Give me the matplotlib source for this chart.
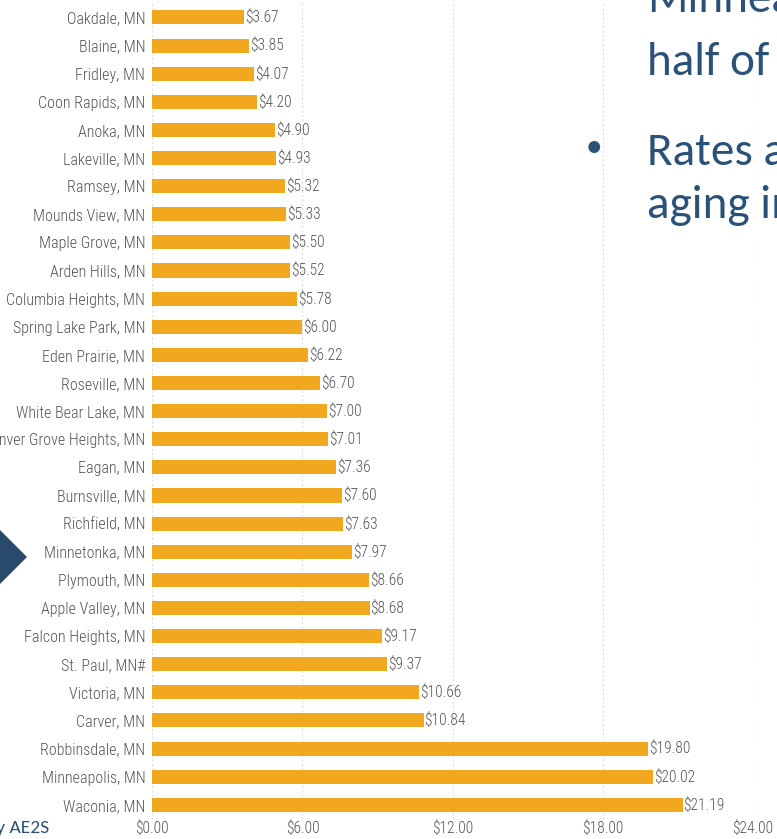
import matplotlib
matplotlib.use("Agg")
import matplotlib.pyplot as plt
from matplotlib.patches import Polygon

cities = ["Oakdale, MN", "Blaine, MN", "Fridley, MN", "Coon Rapids, MN", "Anoka, MN",
          "Lakeville, MN", "Ramsey, MN", "Mounds View, MN", "Maple Grove, MN", "Arden Hills, MN",
          "Columbia Heights, MN", "Spring Lake Park, MN", "Eden Prairie, MN", "Roseville, MN",
          "White Bear Lake, MN", "Inver Grove Heights, MN", "Eagan, MN", "Burnsville, MN",
          "Richfield, MN", "Minnetonka, MN", "Plymouth, MN", "Apple Valley, MN",
          "Falcon Heights, MN", "St. Paul, MN#", "Victoria, MN", "Carver, MN",
          "Robbinsdale, MN", "Minneapolis, MN", "Waconia, MN"]
rates = [3.67, 3.85, 4.07, 4.20, 4.90, 4.93, 5.32, 5.33, 5.50, 5.52, 5.78, 6.00, 6.22, 6.70,
         7.00, 7.01, 7.36, 7.60, 7.63, 7.97, 8.66, 8.68, 9.17, 9.37, 10.66, 10.84,
         19.80, 20.02, 21.19]
xticks = [0, 6, 12, 18, 24]

narrow = ["Roboto Condensed", "DejaVu Sans"]
slide = ["Carlito", "DejaVu Sans"]
bar_color = "#F1A81E"
grey = "#555555"
blue = "#2A5279"

fig = plt.figure(figsize=(7.77, 8.39), dpi=100)
ax = fig.add_axes([0.196, 0.024, 0.773, 0.972])

y = list(range(len(cities)))
ax.barh(y, rates, height=0.5, color=bar_color, zorder=2)
for yi, v in zip(y, rates):
    ax.text(v + 0.04, yi, "$%.2f" % v, va="center", ha="left",
            fontsize=11.2, color=grey, family=narrow, weight="light")

ax.set_yticks(y)
ax.set_yticklabels(cities, family=narrow, fontsize=11.5, color=grey, weight="light")
ax.set_ylim(len(cities) - 0.5, -0.5)
ax.set_xlim(0, 24)
ax.set_xticks(xticks)
ax.set_xticklabels(["$%.2f" % t for t in xticks], family=narrow, fontsize=11.2,
                   color=grey, weight="light")
ax.tick_params(length=0, pad=5)
ax.tick_params(axis="x", pad=1)
for s in ax.spines.values():
    s.set_visible(False)
for t in xticks:
    ax.axvline(t, color="#dddddd", lw=0.8, ls=(0, (2, 2)), zorder=1)

# slide decorations around the cropped chart
fig.text(647 / 777, 1 - 12 / 839, "Minneapolis", fontsize=34, color=blue,
         family=slide, va="baseline")
fig.text(647 / 777, 1 - 75 / 839, "half of", fontsize=34, color=blue,
         family=slide, va="baseline")
fig.text(594 / 777, 1 - 147 / 839, "\u2022", fontsize=24, color=blue,
         family=slide, va="center", ha="center")
fig.text(647 / 777, 1 - 165 / 839, "Rates are", fontsize=34, color=blue,
         family=slide, va="baseline")
fig.text(647 / 777, 1 - 218 / 839, "aging infrastructure", fontsize=34, color=blue,
         family=slide, va="baseline")
fig.text(-14 / 777, 1 - 828 / 839, "by AE2S", fontsize=14, color=blue,
         family=slide, va="center")
arrow = Polygon([(0, 1 - 530 / 839), (27 / 777, 1 - 557 / 839), (0, 1 - 584 / 839),
                 (-0.05, 1 - 557 / 839)], closed=True, transform=fig.transFigure,
                facecolor="#294A6B", edgecolor="none")
fig.patches.append(arrow)

fig.savefig("out.png", dpi=100)
